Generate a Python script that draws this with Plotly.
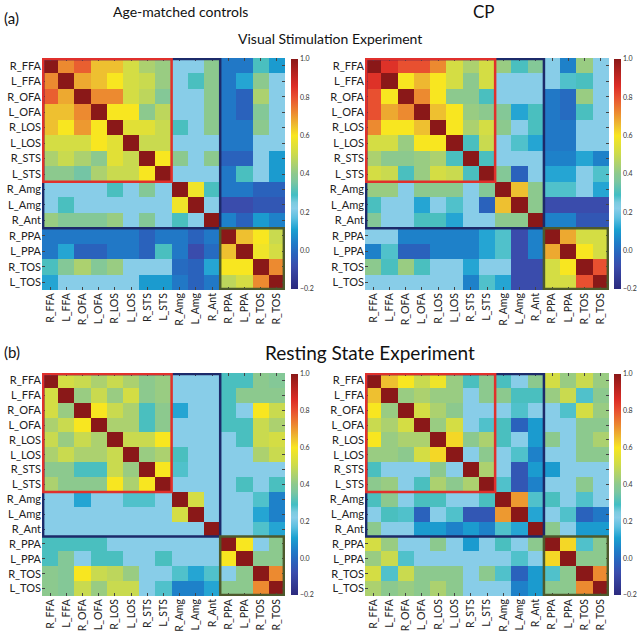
import plotly.graph_objects as go

row_labels = ["R_FFA", "L_FFA", "R_OFA", "L_OFA", "R_LOS", "L_LOS", "R_STS", "L_STS",
              "R_Amg", "L_Amg", "R_Ant", "R_PPA", "L_PPA", "R_TOS", "L_TOS"]
col_labels = ["R_FFA", "L_FFA", "R_OFA", "L_OFA", "R_LOS", "L_LOS", "R_STS", "L_STS",
              "R_Amg", "L_Amg", "R_Ant", "R_PPA", "L_PPA", "R_TOS", "R_TOS"]

ctrl_visual = [
    [1, .72, .78, .65, .65, .52, .45, .42, .22, .22, .40, .03, .03, .30, .10],
    [.72, 1, .68, .65, .60, .52, .50, .42, .22, .30, .40, .03, .12, .40, .22],
    [.78, .68, 1, .72, .72, .52, .48, .38, .22, .22, .40, .03, -.02, .45, .22],
    [.65, .65, .72, 1, .60, .60, .40, .48, .22, .22, .40, .03, -.02, .38, .22],
    [.65, .60, .70, .60, 1, .55, .55, .50, .30, .22, .40, .03, .03, .40, .22],
    [.52, .52, .52, .60, .55, 1, .50, .50, .22, .22, .22, .03, .03, .22, .22],
    [.45, .50, .45, .40, .55, .50, 1, .60, .40, .22, .40, -.02, -.02, .22, .10],
    [.40, .40, .35, .45, .50, .50, .60, 1, .22, .22, .22, .03, .30, .22, .10],
    [.22, .22, .22, .22, .30, .22, .38, .22, 1, .58, .30, .03, .03, -.02, -.02],
    [.22, .30, .22, .22, .22, .22, .22, .22, .58, 1, .22, -.08, -.08, -.05, -.05],
    [.42, .38, .38, .38, .42, .22, .38, .22, .30, .22, 1, .05, -.02, .10, .05],
    [.03, .03, .03, .03, .03, .03, -.02, .03, .03, -.02, .03, 1, .65, .60, .50],
    [.03, .12, -.02, -.02, .03, .03, -.02, .30, .03, -.08, .00, .65, 1, .58, .52],
    [.30, .38, .45, .38, .42, .22, .22, .22, .00, -.02, .12, .60, .60, 1, .72],
    [.12, .22, .22, .22, .22, .22, .10, .10, .03, -.02, .03, .48, .52, .72, 1],
]

cp_visual = [
    [1, .85, .80, .80, .72, .52, .45, .52, .42, .30, .38, .22, .05, .42, .22],
    [.85, 1, .60, .66, .60, .52, .40, .52, .22, .22, .22, .22, .28, .30, .22],
    [.80, .60, 1, .72, .60, .40, .40, .30, .22, .22, .22, .03, .00, .42, .22],
    [.80, .68, .72, 1, .65, .60, .42, .40, .38, .12, .30, .03, .00, .30, .22],
    [.72, .60, .60, .65, 1, .60, .45, .52, .40, .22, .30, .03, .03, .22, .22],
    [.52, .52, .42, .60, .60, 1, .30, .50, .22, .28, .12, .03, .03, .22, .22],
    [.45, .40, .40, .42, .45, .30, 1, .30, .22, .22, .22, .05, .05, .12, .05],
    [.52, .50, .30, .42, .52, .50, .30, 1, .38, -.02, .22, .12, .12, .22, .28],
    [.42, .42, .22, .40, .40, .40, .22, .38, 1, .65, .40, .28, .28, .22, .12],
    [.30, .22, .22, .12, .22, .28, .22, -.02, .65, 1, .40, -.08, -.08, -.08, -.08],
    [.38, .22, .22, .30, .30, .12, .22, .22, .40, .40, 1, .05, .05, -.05, -.05],
    [.22, .22, .05, .05, .05, .05, .05, .12, .28, -.08, .05, 1, .68, .52, .52],
    [.05, .28, -.02, -.02, .05, .05, .05, .12, .28, -.08, .05, .68, 1, .60, .52],
    [.40, .30, .42, .30, .22, .22, .12, .22, .22, -.08, -.08, .52, .60, 1, .80],
    [.22, .22, .22, .22, .22, .22, .05, .28, .12, -.08, -.08, .52, .52, .80, 1],
]

ctrl_rest = [
    [1, .52, .50, .45, .50, .45, .40, .42, .22, .22, .22, .30, .30, .40, .38],
    [.52, 1, .42, .50, .42, .52, .40, .42, .22, .22, .22, .30, .40, .40, .40],
    [.52, .42, 1, .60, .50, .45, .30, .40, .12, .22, .22, .30, .22, .60, .50],
    [.45, .50, .60, 1, .45, .45, .30, .40, .22, .22, .22, .30, .30, .50, .45],
    [.50, .42, .50, .45, 1, .50, .50, .60, .22, .22, .22, .22, .30, .50, .52],
    [.45, .50, .45, .45, .50, 1, .42, .45, .30, .22, .22, .22, .22, .45, .50],
    [.40, .40, .30, .30, .50, .42, 1, .60, .28, .22, .22, .22, .22, .22, .22],
    [.45, .40, .40, .40, .60, .45, .60, 1, .22, .22, .22, .22, .30, .22, .30],
    [.22, .22, .12, .22, .22, .28, .28, .22, 1, .52, .22, .22, .22, .28, .05],
    [.22, .22, .22, .22, .22, .22, .22, .22, .52, 1, .22, .22, .22, .12, .05],
    [.22, .22, .22, .22, .22, .22, .22, .22, .22, .22, 1, .22, .22, .28, .12],
    [.30, .30, .30, .30, .22, .22, .22, .22, .22, .22, .22, 1, .60, .22, .40],
    [.30, .38, .22, .30, .30, .22, .22, .30, .22, .22, .22, .60, 1, .40, .40],
    [.40, .38, .60, .50, .48, .42, .22, .22, .28, .12, .28, .22, .40, 1, .72],
    [.40, .38, .50, .42, .50, .50, .22, .28, .05, .05, .12, .40, .40, .72, 1],
]

cp_rest = [
    [1, .65, .60, .50, .58, .42, .30, .40, .30, .22, .40, .52, .42, .50, .42],
    [.65, 1, .42, .45, .42, .42, .22, .40, .40, .30, .30, .42, .50, .28, .40],
    [.60, .42, 1, .52, .45, .40, .22, .22, .22, .28, .22, .22, .28, .52, .42],
    [.50, .45, .52, 1, .42, .52, .22, .28, .30, -.02, .10, .22, .22, .40, .40],
    [.60, .42, .45, .45, 1, .62, .40, .45, .30, .22, .10, .40, .22, .40, .45],
    [.42, .42, .40, .52, .62, 1, .22, .40, .22, .28, .05, .22, .22, .40, .40],
    [.30, .22, .22, .22, .40, .22, 1, .45, .22, -.05, .10, .10, .22, .22, .22],
    [.40, .42, .22, .30, .45, .40, .45, 1, .28, -.05, .05, .22, .22, .40, .22],
    [.30, .40, .22, .30, .30, .22, .22, .30, 1, .70, .28, .30, .22, .28, .22],
    [.22, .30, .28, -.02, .22, .28, -.05, -.05, .70, 1, .12, .22, .28, -.02, .03],
    [.40, .22, .22, .10, .10, .05, .10, .05, .28, .12, 1, .40, .22, .10, .10],
    [.52, .42, .22, .22, .40, .22, .10, .22, .30, .22, .40, 1, .62, .28, .40],
    [.42, .50, .28, .22, .22, .22, .22, .22, .22, .28, .22, .62, 1, .40, .40],
    [.52, .28, .50, .40, .40, .40, .22, .40, .28, -.02, .10, .28, .40, 1, .72],
    [.45, .40, .42, .40, .45, .40, .22, .22, .22, .05, .10, .40, .40, .72, 1],
]

cbar_ticks = [-0.2, 0.0, 0.2, 0.4, 0.6, 0.8, 1.0]
zmin, zmax = -0.2, 1.0

stops = [(-0.2, "#2c2a7e"), (-0.08, "#3a4cac"), (-0.02, "#2a62bc"), (0.04, "#1f7cc8"),
         (0.11, "#1aa0d0"), (0.17, "#5cbfe0"), (0.22, "#88cde8"), (0.25, "#7ccbe0"),
         (0.29, "#42bec4"), (0.36, "#7cc6a0"), (0.40, "#8cc98e"), (0.44, "#a6cf76"),
         (0.51, "#cfdc48"), (0.60, "#f8e620"), (0.65, "#eec030"), (0.72, "#ec8a30"),
         (0.80, "#e85030"), (0.86, "#dc2c26"), (1.0, "#8a1818")]
colorscale = [[(v - zmin) / (zmax - zmin), c] for v, c in stops]

W, H = 640, 634
FONT = "Lato"

panels = [
    dict(z=ctrl_visual, xr=(42, 285), yr=(58, 290), cbx=291),
    dict(z=cp_visual, xr=(365, 609), yr=(58, 290), cbx=614),
    dict(z=ctrl_rest, xr=(42, 285), yr=(373, 596), cbx=291),
    dict(z=cp_rest, xr=(365, 609), yr=(373, 596), cbx=614),
]

fig = go.Figure()
layout = dict(template="none", width=W, height=H,
              margin=dict(l=0, r=0, t=0, b=0, autoexpand=False),
              paper_bgcolor="white", plot_bgcolor="white", showlegend=False)
shapes = []
idx = list(range(15))
for i, p in enumerate(panels):
    n = "" if i == 0 else str(i + 1)
    x0, x1 = p["xr"]
    y0, y1 = p["yr"]
    fig.add_trace(go.Heatmap(
        z=p["z"], x=idx, y=idx, xaxis="x" + n, yaxis="y" + n,
        zmin=zmin, zmax=zmax, colorscale=colorscale, xgap=0, ygap=0,
        colorbar=dict(x=p["cbx"] / W, xanchor="left", xpad=0, ypad=0,
                      y=1 - (y0 + y1) / 2 / H, yanchor="middle",
                      len=(y1 - y0 - 2) / H, lenmode="fraction", thickness=7,
                      outlinewidth=0, tickvals=cbar_ticks, tickformat=".1f",
                      ticks="",
                      tickfont=dict(family=FONT, size=7, color="#333"))
    ))
    axcommon = dict(showgrid=False, zeroline=False, ticks="inside", ticklen=3,
                    tickcolor="#444", tickwidth=1, mirror="allticks", showline=False,
                    automargin=False)
    layout["xaxis" + n] = dict(domain=[x0 / W, x1 / W], anchor="y" + n,
                               range=[-0.5, 14.5], tickvals=idx, ticktext=col_labels,
                               tickangle=-90,
                               tickfont=dict(family=FONT, size=10.5, color="#222"),
                               **axcommon)
    layout["yaxis" + n] = dict(domain=[1 - y1 / H, 1 - y0 / H], anchor="x" + n,
                               range=[14.5, -0.5], tickvals=idx, ticktext=row_labels,
                               tickfont=dict(family=FONT, size=11, color="#222"),
                               **axcommon)
    xr, yr = "x" + n, "y" + n
    d = 0.07
    boxes = [(-0.5 + d, 10.5, "#1c2a6a"), (-0.5 + d, 7.5, "#e0302c"),
             (10.5, 14.5 - d, "#4d5a2c")]
    for a, b, col in boxes:
        shapes.append(dict(type="rect", xref=xr, yref=yr, x0=a, x1=b, y0=a, y1=b,
                           line=dict(color=col, width=2.5), fillcolor="rgba(0,0,0,0)"))

layout["shapes"] = shapes
annots = [
    dict(text="(a)", x=2 / W, y=1 - 18 / H, size=15, xanchor="left"),
    dict(text="Age-matched controls", x=180 / W, y=1 - 12 / H, size=14, xanchor="center"),
    dict(text="CP", x=484 / W, y=1 - 12 / H, size=17, xanchor="center"),
    dict(text="Visual Stimulation Experiment", x=330 / W, y=1 - 39 / H, size=14, xanchor="center"),
    dict(text="(b)", x=2 / W, y=1 - 352 / H, size=15, xanchor="left"),
    dict(text="Resting State Experiment", x=370 / W, y=1 - 352 / H, size=19, xanchor="center"),
]
layout["annotations"] = [dict(text=a["text"], x=a["x"], y=a["y"], xref="paper", yref="paper",
                              xanchor=a["xanchor"], yanchor="middle", showarrow=False,
                              font=dict(family=FONT, size=a["size"], color="#111"))
                         for a in annots]
fig.update_layout(**layout)
fig.write_html("out.html", config={"displayModeBar": False},
               post_script="document.body.style.margin='0px';document.body.style.padding='0px';")
